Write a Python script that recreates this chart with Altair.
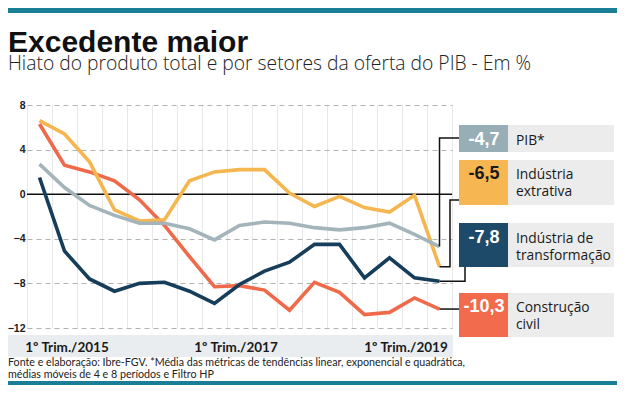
import altair as alt
import pandas as pd

# ---------------- data ----------------
quarters = ["1T15", "2T15", "3T15", "4T15", "1T16", "2T16", "3T16", "4T16",
            "1T17", "2T17", "3T17", "4T17", "1T18", "2T18", "3T18", "4T18", "1T19"]
series = ["PIB*", "Indústria extrativa", "Indústria de transformação", "Construção civil"]
pib = [2.7, 0.6, -1.0, -1.9, -2.6, -2.6, -3.1, -4.1, -2.8, -2.5, -2.6, -3.0, -3.2, -3.0, -2.6, -3.6, -4.7]
extrativa = [6.6, 5.4, 2.9, -1.4, -2.4, -2.3, 1.2, 2.0, 2.2, 2.2, 0.1, -1.1, -0.2, -1.2, -1.6, -0.1, -6.5]
transformacao = [1.5, -5.1, -7.6, -8.7, -8.0, -7.9, -8.7, -9.8, -8.1, -6.9, -6.1, -4.5, -4.5, -7.5, -5.7, -7.5, -7.8]
construcao = [6.3, 2.6, 2.0, 1.2, -0.5, -2.8, -5.6, -8.3, -8.2, -8.6, -10.4, -7.9, -8.8, -10.8, -10.6, -9.3, -10.3]
values = [pib, extrativa, transformacao, construcao]
legend_labels = ["PIB*", "Indústria\nextrativa", "Indústria de\ntransformação", "Construção\ncivil"]
x_tick_labels = ["1º Trim./2015", "1º Trim./2017", "1º Trim./2019"]
y_ticks = [-12, -8, -4, 0, 4, 8]

title = "Excedente maior"
subtitle = "Hiato do produto total e por setores da oferta do PIB - Em %"
footer = ("Fonte e elaboração: Ibre-FGV. *Média das métricas de tendências linear, exponencial e quadrática,\n"
          "médias móveis de 4 e 8 períodos e Filtro HP")

# ---------------- styles ----------------
line_colors = ["#a3b4ba", "#f5b64f", "#163d5a", "#ef6a4a"]
box_colors = ["#98aeb7", "#f6b752", "#1e4a6a", "#f26b4c"]
box_text_colors = ["white", "#1a1a1a", "white", "white"]
teal = "#1a7f96"

# layout helpers: page pixel -> data coordinates (view origin at page 27,105; 25px per quarter)
W, H = 425, 223
def gx(px):
    return (px - 27) / 25.0 - 0.5
def gy(py):
    return 8 - (py - 105) * 20.0 / H

x_scale = alt.Scale(domain=[-0.5, 16.5], nice=False, zero=False)
y_scale = alt.Scale(domain=[-12, 8], nice=False, zero=False)
x_axis = alt.Axis(values=[k - 0.5 for k in range(18)], grid=True, gridColor="#e6e8e9",
                  labels=False, ticks=False, domain=False, title=None)
y_axis = alt.Axis(values=y_ticks, grid=True, gridDash=[5, 4], gridColor="#b3b3b3",
                  domain=False, ticks=False, title=None, labelFont="Liberation Sans",
                  labelFontWeight="bold", labelFontSize=10.5, labelColor="#222", labelPadding=2)
X = alt.X("x:Q", scale=x_scale, axis=x_axis)
Y = alt.Y("y:Q", scale=y_scale, axis=y_axis)

layers = []

# frame pieces: top bar, label band, bottom bar
frame = pd.DataFrame({
    "x": [gx(0), gx(0), gx(0)], "x2": [gx(625), gx(453), gx(625)],
    "y": [gy(7), gy(335), gy(381)], "y2": [gy(13), gy(357), gy(386)],
    "c": [teal, "#e9edef", teal]})
layers.append(alt.Chart(frame).mark_rect().encode(
    x=X, x2="x2:Q", y=Y, y2="y2:Q", color=alt.Color("c:N", scale=None)))

# zero line
zero = pd.DataFrame({"x": [-0.5], "x2": [16.5], "y": [0]})
layers.append(alt.Chart(zero).mark_rule(color="#111", strokeWidth=1.5).encode(x=X, x2="x2:Q", y=Y))

# series lines
order = [3, 1, 0, 2]
for i in order:
    df = pd.DataFrame({"x": list(range(len(quarters))), "trim": quarters, "y": values[i]})
    layers.append(alt.Chart(df).mark_line(color=line_colors[i], strokeWidth=3.6,
                                          strokeJoin="miter").encode(x=X, y=Y))

# connectors from line ends to boxes
last = [v[-1] for v in values]
n = len(quarters) - 1
conn_pts = [
    [(n, last[0]), (n, gy(138)), (gx(459), gy(138))],
    [(n, last[1]), (gx(450), last[1]), (gx(450), gy(200)), (gx(459), gy(200))],
    [(n, last[2]), (gx(465), last[2]), (gx(465), gy(267))],
    [(n, last[3]), (gx(459), last[3])],
]
rows = []
for i, pts in enumerate(conn_pts):
    for k, (xx, yy) in enumerate(pts):
        rows.append({"s": series[i], "k": k, "x": xx, "y": yy})
layers.append(alt.Chart(pd.DataFrame(rows)).mark_line(color="#111", strokeWidth=1.5).encode(
    x=X, y=Y, detail="s:N", order="k:Q"))

# legend boxes
box_top = [125, 160, 223, 293]
box_bot = [152, 205, 267, 337]
boxes = pd.DataFrame({
    "x": [gx(508)] * 4 + [gx(459)] * 4,
    "x2": [gx(614)] * 4 + [gx(508)] * 4,
    "y": [gy(t) for t in box_top] * 2,
    "y2": [gy(b) for b in box_bot] * 2,
    "c": ["#ececec"] * 4 + box_colors})
layers.append(alt.Chart(boxes).mark_rect().encode(
    x=X, x2="x2:Q", y=Y, y2="y2:Q", color=alt.Color("c:N", scale=None)))

text_base = [145, 179, 243, 312]
vals = pd.DataFrame({
    "x": [gx(484)] * 4,
    "y": [gy(b) for b in text_base],
    "t": [f"{v:.1f}".replace(".", ",") for v in last],
    "c": box_text_colors})
layers.append(alt.Chart(vals).mark_text(font="Liberation Sans", fontWeight="bold", fontSize=18,
                                        align="center", baseline="alphabetic").encode(
    x=X, y=Y, text="t:N", color=alt.Color("c:N", scale=None)))

labs = pd.DataFrame({"x": [gx(516)] * 4, "y": [gy(b) for b in text_base], "t": legend_labels})
layers.append(alt.Chart(labs).mark_text(font="Open Sans", fontSize=13.8, align="left",
                                        baseline="alphabetic", lineBreak="\n", lineHeight=17,
                                        color="#1a1a1a").encode(x=X, y=Y, text="t:N"))

# x labels
xl = pd.DataFrame({"x": [gx(67), gx(236), gx(406)], "y": [gy(352)] * 3, "t": x_tick_labels})
layers.append(alt.Chart(xl).mark_text(font="Lato", fontWeight="bold", fontSize=13.5,
                                      align="center", baseline="alphabetic", color="#1a1a1a").encode(
    x=X, y=Y, text="t:N"))

# title, subtitle, footer
txt = pd.DataFrame({"x": [gx(8)] * 3, "y": [gy(52), gy(70), gy(366)], "t": [title, subtitle, footer],
                    "k": ["title", "sub", "foot"]})
layers.append(alt.Chart(txt).transform_filter(alt.datum.k == "title").mark_text(
    font="Liberation Sans", fontWeight="bold", fontSize=30, align="left", baseline="alphabetic",
    color="#111").encode(x=X, y=Y, text="t:N"))
layers.append(alt.Chart(txt).transform_filter(alt.datum.k == "sub").mark_text(
    font="Open Sans", fontWeight=300, fontSize=19.3, align="left", baseline="alphabetic",
    color="#222").encode(x=X, y=Y, text="t:N"))
layers.append(alt.Chart(txt).transform_filter(alt.datum.k == "foot").mark_text(
    font="Lato", fontSize=10.7, align="left", baseline="alphabetic",
    lineBreak="\n", lineHeight=11.5, color="#222").encode(x=X, y=Y, text="t:N"))

chart = alt.layer(*layers).properties(
    width=W, height=H,
    autosize=alt.AutoSizeParams(type="none"),
    padding={"left": 19, "top": 97, "right": 165, "bottom": 57},
    background="white",
).configure_view(stroke=None)

chart.save("out.html", embed_options={"renderer": "svg", "actions": False})
